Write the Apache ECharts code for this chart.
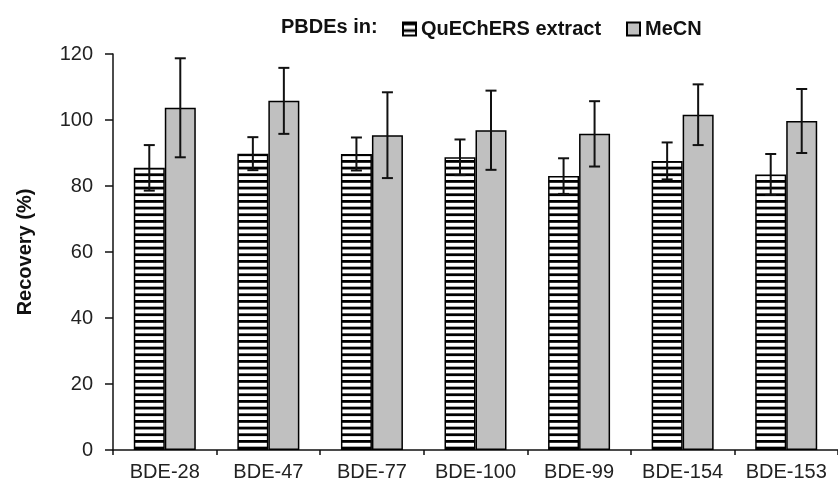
<!DOCTYPE html>
<html>
<head>
<meta charset="utf-8">
<script src="https://cdn.jsdelivr.net/npm/echarts@6/dist/echarts.min.js"></script>
<style>html,body{margin:0;padding:0;background:#fff}#c{width:838px;height:492px}</style>
</head>
<body>
<div id="c"></div>
<script>
var categories = ['BDE-28', 'BDE-47', 'BDE-77', 'BDE-100', 'BDE-99', 'BDE-154', 'BDE-153'];
var quechers = [85.5, 89.8, 89.7, 88.7, 83.0, 87.6, 83.5];
var quechersErr = [6.9, 5.0, 5.0, 5.4, 5.4, 5.6, 6.2];
var mecn = [103.7, 105.8, 95.4, 96.9, 95.8, 101.6, 99.7];
var mecnErr = [15.0, 10.0, 13.0, 12.0, 9.9, 9.2, 9.7];
var yTicks = [0, 20, 40, 60, 80, 100, 120];

var pc = document.createElement('canvas');
pc.width = 20; pc.height = 20;
var g = pc.getContext('2d');
g.fillStyle = '#fff'; g.fillRect(0, 0, 20, 20);
g.fillStyle = '#000';
for (var k = 0; k < 3; k++) { g.fillRect(0, k * 20 / 3, 20, 2.8); }

var BW = 31;
function errSeries(name, vals, errs, dx) {
  return {
    type: 'custom', name: name + ' err', silent: true, z: 5,
    data: vals.map(function (v, i) { return [i, v, errs[i]]; }),
    renderItem: function (params, api) {
      var i = api.value(0), v = api.value(1), e = api.value(2);
      var top = api.coord([i, v + e]);
      var bot = api.coord([i, v - e]);
      var x = top[0] + dx;
      var cw = 5.5;
      var st = { stroke: '#111', lineWidth: 2 };
      return { type: 'group', children: [
        { type: 'line', shape: { x1: x, y1: top[1], x2: x, y2: bot[1] }, style: st },
        { type: 'line', shape: { x1: x - cw, y1: top[1], x2: x + cw, y2: top[1] }, style: st },
        { type: 'line', shape: { x1: x - cw, y1: bot[1], x2: x + cw, y2: bot[1] }, style: st }
      ]};
    }
  };
}

var font = 'Liberation Sans, Arial';
var chart = echarts.init(document.getElementById('c'));
chart.setOption({
  animation: false,
  backgroundColor: '#fff',
  title: { text: 'PBDEs in:', left: 276, top: 12, textStyle: { fontFamily: font, fontWeight: 'bold', fontSize: 20, color: '#111' } },
  legend: [
    { data: [{ name: 'QuEChERS extract', icon: 'rect' }], left: 397, top: 14, itemWidth: 13, itemHeight: 13,
      textStyle: { fontFamily: font, fontWeight: 'bold', fontSize: 20, color: '#111' } },
    { data: [{ name: 'MeCN', icon: 'rect' }], left: 621, top: 14, itemWidth: 13, itemHeight: 13,
      textStyle: { fontFamily: font, fontWeight: 'bold', fontSize: 20, color: '#111' } }
  ],
  grid: { left: 113, top: 54, bottom: 42, right: -8, containLabel: false },
  xAxis: {
    type: 'category', data: categories,
    axisLine: { lineStyle: { color: '#111', width: 1.5 } },
    axisTick: { show: true, length: 5, lineStyle: { color: '#111', width: 1.5 } },
    axisLabel: { interval: 0, color: '#222', fontFamily: font, fontSize: 20, margin: 12, hideOverlap: false },
    splitLine: { show: false }
  },
  yAxis: {
    type: 'value', min: 0, max: 120, interval: 20,
    name: 'Recovery (%)', nameLocation: 'middle', nameGap: 78,
    nameTextStyle: { fontFamily: font, fontWeight: 'bold', fontSize: 20, color: '#111' },
    axisLine: { show: true, lineStyle: { color: '#111', width: 1.5 } },
    axisTick: { show: true, length: 8, lineStyle: { color: '#111', width: 1.5 } },
    axisLabel: { color: '#222', fontFamily: font, fontSize: 20, margin: 20,
      formatter: function (v) { return yTicks.indexOf(v) >= 0 ? String(v) : ''; } },
    splitLine: { show: false }
  },
  series: [
    { type: 'bar', name: 'QuEChERS extract', data: quechers, barWidth: BW, barGap: '0%',
      itemStyle: { color: { image: pc, repeat: 'repeat' }, borderColor: '#000', borderWidth: 1.5 } },
    { type: 'bar', name: 'MeCN', data: mecn, barWidth: BW, barGap: '0%',
      itemStyle: { color: '#c0c0c0', borderColor: '#000', borderWidth: 1.5 } },
    errSeries('QuEChERS extract', quechers, quechersErr, -BW / 2),
    errSeries('MeCN', mecn, mecnErr, BW / 2)
  ]
});
</script>
</body>
</html>
